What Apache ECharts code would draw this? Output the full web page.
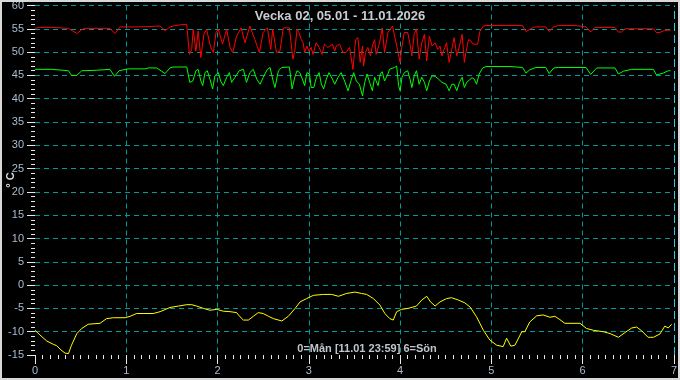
<!DOCTYPE html>
<html>
<head>
<meta charset="utf-8">
<script src="https://cdn.jsdelivr.net/npm/echarts@6/dist/echarts.min.js"></script>
<style>
html,body{margin:0;padding:0;background:#000;}
#c{width:680px;height:380px;}
</style>
</head>
<body>
<div id="c"></div>
<script>
const titleText = 'Vecka 02, 05.01 - 11.01.2026';
const footText = '0=Mån [11.01 23:59] 6=Sön';
const unitText = '° C';

const redHours = [0,1.3,4.4,4.6,8.8,11.0,12.3,13.0,19.7,21.0,22.4,27.2,27.5,32.9,34.2,35.5,36.3,38.6,39.9,
40.6,41.2,41.6,42.3,42.9,43.6,44.0,44.4,45.1,46.2,46.9,47.6,48.2,49.3,50.4,51.3,52.0,53.0,54.2,55.2,56.5,57.8,59.0,60.0,61.1,62.0,62.5,63.5,64.4,65.3,66.9,67.8,68.3,68.9,69.4,70.0,70.5,70.9,71.5,72.0,72.6,73.1,73.9,74.7,75.5,76.1,77.0,78.2,78.8,79.2,80.1,81.0,81.8,82.7,83.2,83.6,84.3,84.9,85.5,86.1,86.4,86.9,87.5,88.2,88.7,89.3,89.7,90.6,91.3,91.9,92.8,94.0,95.3,96.0,96.5,97.1,98.0,98.6,99.1,99.7,100.3,101.0,101.7,102.4,103.0,103.7,104.4,105.2,105.9,106.5,107.0,107.6,108.2,108.9,109.6,110.2,110.9,111.6,112.3,112.9,113.3,114.0,114.6,115.2,116.4,117.0,117.9,
118.6,128.2,129.1,131.0,131.7,134.3,135.2,136.3,137.6,142.0,142.2,144.9,146.1,147.2,152.5,153.4,154.2,155.1,162.6,163.4,164.3,165.6,167.1];
const redTemps = [55.1,55.3,55.3,55.1,55.1,54.0,54.8,55.1,55.1,54.0,55.4,55.4,55.6,55.6,54.6,55.4,55.6,55.9,55.9,
49.5,50.6,54.9,50.2,54.5,48.8,48.5,53.8,54.9,51.0,49.9,54.2,54.9,51.7,54.9,51.0,49.9,53.4,55.2,52.0,55.6,52.7,49.9,54.2,55.2,50.6,54.9,49.9,50.2,55.2,55.2,48.5,50.2,54.9,54.2,52.7,52.0,49.9,51.3,50.2,51.0,49.5,52.0,51.0,49.5,51.7,51.0,51.7,50.2,51.3,51.7,49.9,49.9,51.0,50.6,46.3,52.7,53.1,47.8,51.3,47.0,49.9,51.0,49.2,51.3,52.7,49.5,52.0,55.2,49.9,54.2,55.6,50.6,47.8,51.3,54.2,54.2,51.7,49.2,53.8,55.0,48.5,52.0,53.8,48.1,53.4,51.3,52.0,50.6,51.3,49.2,50.6,52.0,47.8,50.6,53.1,49.2,51.3,53.8,47.8,49.9,52.7,52.4,51.7,51.7,54.5,55.6,
55.7,55.7,54.4,55.3,55.4,55.4,54.4,55.4,55.7,55.7,55.4,55.4,54.3,55.3,55.3,54.3,54.3,55.0,55.0,54.2,54.2,54.7,54.7];

const greenHours = [0,4.4,4.6,8.8,9.6,11.0,12.3,16.2,16.5,19.7,20.9,22.1,24.5,28.9,29.8,32.0,34.2,35.5,36.3,39.9,
40.7,41.5,42.3,42.9,43.6,44.1,44.7,45.3,46.0,46.7,47.3,48.2,48.8,49.5,50.4,51.1,51.7,52.6,53.7,54.8,55.6,56.5,57.4,58.3,59.2,60.0,61.1,61.8,62.7,63.1,64.0,64.9,66.9,67.6,68.3,68.9,69.6,70.3,70.9,71.5,72.2,72.6,73.3,74.0,74.7,75.3,75.9,76.6,77.3,78.2,78.8,79.7,80.5,81.4,82.3,83.2,83.8,84.5,85.3,86.1,86.7,87.3,88.0,88.7,89.3,90.2,90.8,91.3,91.9,92.8,93.2,94.5,95.1,95.6,96.0,96.5,97.1,98.0,98.6,99.1,99.7,100.3,101.0,101.7,102.4,103.0,103.7,104.4,105.2,106.1,107.0,108.1,108.9,109.6,110.2,110.9,111.6,112.3,112.9,113.5,114.2,114.9,115.5,116.1,116.8,117.7,
118.6,124.9,125.3,128.2,129.1,130.1,131.7,134.3,135.2,136.4,137.6,144.9,146.1,147.7,152.5,153.4,154.7,156.9,162.6,163.4,165.2,166.5,167.1];
const greenTemps = [46.3,46.3,46.0,46.0,45.0,45.0,46.0,46.1,46.3,46.3,44.8,46.0,46.4,46.4,46.6,46.6,45.4,46.6,46.8,46.8,
43.5,43.8,46.0,46.3,43.8,42.8,45.6,46.0,44.2,42.1,44.9,45.6,43.8,42.8,44.6,45.6,43.5,44.6,46.0,46.3,43.5,45.6,46.3,44.2,43.1,44.6,46.3,46.7,43.5,42.4,46.0,46.7,46.8,42.1,44.6,46.0,45.6,44.2,42.8,45.6,45.3,42.4,42.4,44.6,45.6,43.1,42.1,44.2,45.6,44.2,43.1,44.6,45.6,43.8,41.7,44.2,45.6,43.8,43.1,40.6,43.5,45.3,43.5,41.7,44.6,42.8,45.3,45.8,43.8,45.3,46.3,46.7,47.0,42.8,41.7,44.6,45.6,46.0,44.2,42.4,44.9,46.0,43.1,44.6,43.5,41.7,43.8,44.9,44.8,44.2,43.5,43.1,41.7,43.1,43.1,41.7,43.5,44.6,42.4,43.5,44.0,44.5,44.2,43.1,45.3,46.6,
46.9,46.9,46.7,46.7,45.5,46.2,46.7,46.7,45.4,46.6,46.7,46.7,45.2,46.6,46.6,45.3,45.9,46.3,46.3,45.1,45.5,46.0,46.0];

const yellowHours = [0,1.3,3.1,4.8,5.7,6.8,7.9,8.4,8.8,9.6,11.0,12.3,14.0,17.1,18.8,20.6,23.7,25.0,26.7,31.1,32.9,35.5,37.7,39.9,41.2,42.5,44.3,46.0,47.8,49.5,51.3,53.0,53.9,54.8,56.1,57.4,58.7,60.0,61.4,62.7,64.9,66.6,68.4,69.7,71.4,73.2,75.8,78.0,79.8,81.9,84.1,85.9,87.2,89.0,90.7,92.0,93.3,94.2,95.1,96.4,98.1,100.3,101.7,103.0,104.0,105.2,106.5,108.2,109.5,111.3,113.0,114.4,116.1,117.9,119.6,121.4,123.1,124.0,125.1,126.2,128.0,128.8,130.1,131.9,133.6,135.4,136.7,138.0,139.3,143.3,145.0,146.8,149.4,151.2,153.4,155.1,156.9,158.2,159.5,161.2,162.6,164.3,165.6,166.5,167.4];
const yellowTemps = [-9.7,-10.7,-12.0,-12.7,-13.0,-13.9,-14.6,-14.9,-14.7,-12.9,-10.4,-9.3,-8.4,-8.2,-7.2,-7.0,-7.0,-6.7,-6.1,-6.1,-5.7,-4.8,-4.5,-4.2,-4.2,-4.5,-5.0,-5.4,-5.2,-5.6,-5.7,-5.9,-6.8,-7.5,-7.5,-6.7,-5.9,-6.1,-6.7,-7.2,-7.7,-6.7,-5.0,-3.6,-2.9,-2.2,-2.0,-2.0,-2.4,-1.8,-1.5,-1.8,-2.0,-2.9,-4.3,-6.1,-7.2,-7.5,-5.7,-5.2,-5.0,-4.5,-3.2,-2.4,-3.6,-4.5,-3.6,-2.9,-2.7,-3.2,-3.8,-4.7,-6.8,-9.7,-11.8,-12.9,-13.2,-11.4,-13.1,-12.9,-10.0,-10.0,-7.9,-6.6,-6.4,-6.9,-6.7,-7.4,-8.2,-8.2,-9.3,-9.7,-10.0,-10.4,-11.2,-10.2,-9.2,-9.0,-9.8,-11.2,-11.2,-10.5,-8.8,-9.2,-8.4];

function toPairs(hours, temps){ return hours.map((h,i)=>[h/24, temps[i]]); }

const FONT = '"Liberation Sans", Arial, sans-serif';
const labelColor = '#a9bdd0';
const gridColor = '#009a9a';
const tickColor = '#e8e8e8';

const chart = echarts.init(document.getElementById('c'), null, {renderer:'canvas'});
chart.setOption({
  animation:false,
  backgroundColor:'#000',
  grid:{left:35,right:6,top:4,bottom:25,containLabel:false},
  xAxis:{
    type:'value',min:0,max:7,interval:1,
    axisLine:{show:false,onZero:false},
    axisTick:{show:true,length:9,lineStyle:{color:tickColor,width:1}},
    minorTick:{show:true,splitNumber:12,length:4,lineStyle:{color:tickColor,width:1}},
    axisLabel:{color:labelColor,fontSize:11,fontFamily:FONT,margin:10},
    splitLine:{show:true,showMinLine:false,showMaxLine:false,lineStyle:{color:gridColor,type:[5,4],width:1}}
  },
  yAxis:{
    type:'value',min:-15,max:60,interval:5,
    axisLine:{show:false,onZero:false},
    axisTick:{show:true,length:8,lineStyle:{color:tickColor,width:1}},
    minorTick:{show:true,splitNumber:5,length:4,lineStyle:{color:tickColor,width:1}},
    axisLabel:{color:labelColor,fontSize:11,fontFamily:FONT,margin:11},
    splitLine:{show:true,showMinLine:false,lineStyle:{color:gridColor,type:[5,4],width:1}}
  },
  graphic:[
    {type:'rect',shape:{x:1,y:1,width:678,height:378},style:{fill:null,stroke:'#d8d8d8',lineWidth:2},z:100},
    {type:'text',left:'center',top:10,style:{text:titleText,fill:'#c8ccd2',font:'bold 13px '+FONT},z:50},
    {type:'text',x:367,y:349,style:{text:footText,fill:'#c0c6cc',font:'bold 11px '+FONT,align:'center',verticalAlign:'middle'},z:50},
    {type:'text',x:11,y:180,rotation:Math.PI/2,style:{text:unitText,fill:'#e0e0e0',font:'bold 11px '+FONT,align:'center',verticalAlign:'middle'},z:50}
  ],
  series:[
    {type:'line',data:toPairs(redHours,redTemps),showSymbol:false,lineStyle:{color:'#ff0000',width:1},itemStyle:{color:'#ff0000'},
     markLine:{silent:true,symbol:'none',label:{show:false},lineStyle:{color:'#22d0e6',type:[8,4],width:1},data:[{xAxis:7}]}},
    {type:'line',data:toPairs(greenHours,greenTemps),showSymbol:false,lineStyle:{color:'#00ff00',width:1},itemStyle:{color:'#00ff00'}},
    {type:'line',data:toPairs(yellowHours,yellowTemps),showSymbol:false,lineStyle:{color:'#ffff00',width:1},itemStyle:{color:'#ffff00'}}
  ]
});
</script>
</body>
</html>
